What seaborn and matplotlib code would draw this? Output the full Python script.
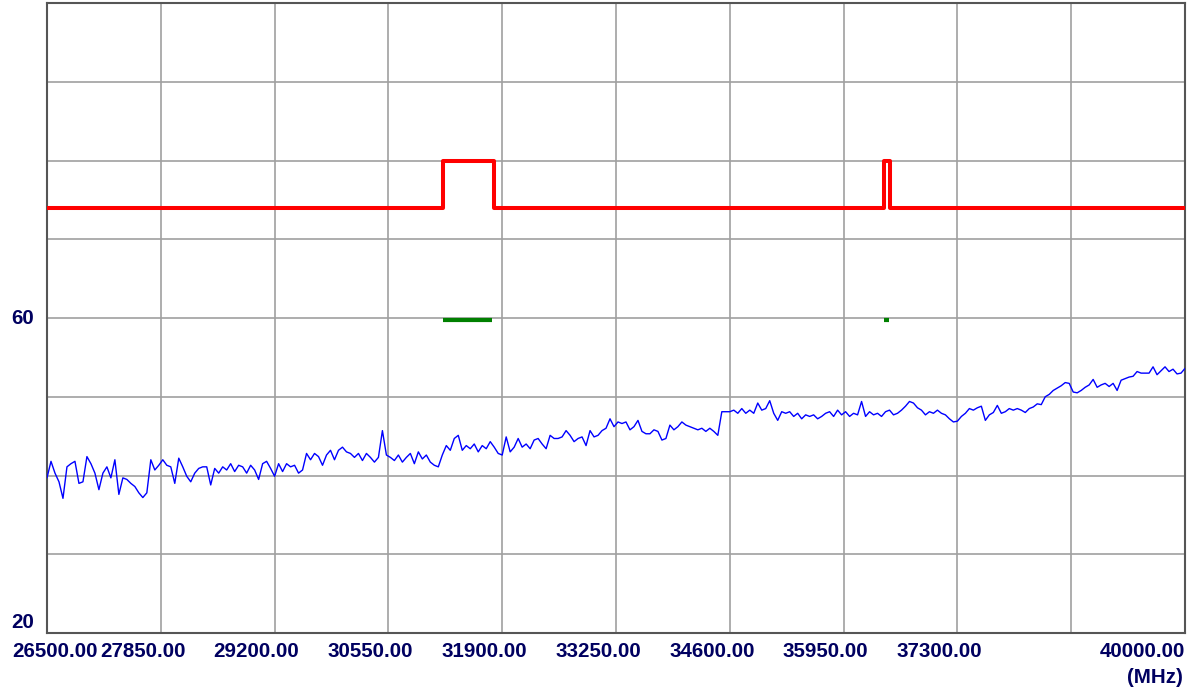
import numpy as np
import pandas as pd
import matplotlib
matplotlib.use("Agg")
import matplotlib.pyplot as plt
import seaborn as sns

# Measured trace (dBuV), one reading per sweep point, split by frequency range
trace_a = [39.7, 41.8, 40.3, 39.2, 37.1, 41.1, 41.5, 41.8, 39.0, 39.2,
           42.4, 41.5, 40.3, 38.2, 40.3, 41.1, 39.7, 42.0, 37.6, 39.7,
           39.5, 39.0, 38.6, 37.8, 37.2, 37.8, 42.0, 40.7, 41.3, 42.0,
           41.3, 41.1, 39.0, 42.2, 41.1, 39.9, 39.2, 40.3, 40.9, 41.1,
           41.1, 38.8, 40.9, 40.3, 41.1, 40.7, 41.5, 40.5, 41.3, 41.1,
           40.3, 41.3, 40.7, 39.5, 41.5, 41.8, 40.9, 39.9, 41.5, 40.5,
           41.5, 41.1, 41.3, 40.3, 40.7, 42.8, 42.0, 42.8, 42.4, 41.3,
           42.6, 43.2, 42.0]
trace_b = [43.2, 43.6, 43.0, 42.8, 42.3, 42.8, 41.9, 42.8, 42.3, 41.7,
           42.3, 45.7, 42.6, 42.3, 41.9, 42.6, 41.7, 42.3, 42.8, 41.5,
           43.0, 42.1, 42.6, 41.7, 41.3, 41.1, 42.6, 43.8, 43.2, 44.7,
           45.1, 43.2, 43.8, 43.4, 44.0, 43.0, 43.8, 43.4, 44.3, 43.6,
           42.8, 42.6, 44.9, 43.0, 43.6, 44.7, 43.6, 44.0, 43.4, 44.5,
           44.7, 44.0, 43.4, 45.1, 44.7, 44.7, 44.9, 45.7, 45.1, 44.3,
           44.7, 44.9, 43.8, 45.7, 44.9, 45.1, 45.7, 46.0, 47.2, 46.2,
           46.8]
trace_c = [46.6, 46.8, 45.8, 46.2, 47.0, 45.6, 45.3, 45.3, 45.8, 45.6,
           44.5, 44.7, 46.4, 45.8, 46.2, 46.8, 46.4, 46.2, 46.0, 45.8,
           46.0, 45.6, 46.0, 45.6, 45.1, 48.1, 48.1, 48.1, 48.3, 47.9,
           48.5, 47.9, 48.3, 47.9, 49.2, 48.3, 48.5, 49.5, 47.9, 47.0,
           48.1, 47.9, 48.1, 47.5, 47.9, 47.2, 47.7, 47.5, 47.7, 47.2,
           47.5, 47.9, 48.1, 47.5, 48.3, 47.7, 48.1, 47.5, 47.9, 47.7,
           49.4, 47.5, 48.1, 47.7, 47.9, 47.5, 48.1, 48.3, 47.7, 47.9,
           48.3]
trace_d = [48.8, 49.4, 49.2, 48.6, 48.3, 47.7, 48.1, 47.9, 48.3, 47.9,
           47.7, 47.2, 46.8, 46.9, 47.5, 47.9, 48.5, 48.3, 48.6, 48.8,
           47.0, 47.7, 48.0, 48.9, 47.9, 48.1, 48.5, 48.3, 48.5, 48.3,
           48.0, 48.5, 48.7, 49.1, 49.0, 50.0, 50.3, 50.8, 51.1, 51.4,
           51.8, 51.7, 50.6, 50.5, 50.8, 51.2, 51.5, 52.2, 51.2, 51.5,
           51.7, 51.3, 51.7, 50.8, 52.1, 52.3, 52.5, 52.6, 53.2, 53.0,
           53.0, 53.0, 53.8, 52.8, 53.3, 53.8, 53.2, 53.5, 52.9, 53.0,
           53.6]

f_start, f_stop = 26500.0, 40000.0

# Limit line (red)
limit_freq = [26500, 31200, 31200, 31800, 31800, 36430, 36430, 36500, 36500, 40000]
limit_level = [74, 74, 80, 80, 74, 74, 80, 80, 74, 74]

# Band markers (green)
band_id = ["b1", "b1", "b2", "b2"]
band_freq = [31200, 31780, 36430, 36490]
band_level = [59.7, 59.7, 59.7, 59.7]

# Axis labels
x_grid = [26500 + 1350 * k for k in range(11)]
x_labels = ["26500.00", "27850.00", "29200.00", "30550.00", "31900.00",
            "33250.00", "34600.00", "35950.00", "37300.00", "", "40000.00"]
y_labels = {60: "60", 20: "20"}

level = np.concatenate([trace_a, trace_b, trace_c, trace_d])
trace = pd.DataFrame({"freq": np.linspace(f_start, f_stop, len(level)),
                      "level": level})
limit = pd.DataFrame({"freq": limit_freq, "level": limit_level})
bands = pd.DataFrame({"band": band_id, "freq": band_freq, "level": band_level})

sns.set_style("white")
plt.rcParams["font.family"] = ["Liberation Sans", "DejaVu Sans"]

W, H = 1194, 691
fig = plt.figure(figsize=(W / 100, H / 100), dpi=100)
ax = fig.add_axes([47 / W, 58 / H, (1185 - 47) / W, 630 / H])

sns.lineplot(data=trace, x="freq", y="level", ax=ax, color="#0000ff",
             lw=1.0, sort=False, estimator=None, zorder=3)
sns.lineplot(data=limit, x="freq", y="level", ax=ax, color="#ff0000",
             lw=2.9, sort=False, estimator=None, zorder=4)
sns.lineplot(data=bands, x="freq", y="level", units="band", ax=ax,
             color="#008000", lw=3.0, sort=False, estimator=None, zorder=4,
             solid_capstyle="butt")

ax.set_xlim(f_start, f_stop)
ax.set_ylim(20, 100)
ax.set_xticks(x_grid)
ax.set_yticks(np.arange(20, 101, 10))
ax.set_xticklabels([])
ax.set_yticklabels([])
ax.tick_params(length=0)
ax.set_xlabel("")
ax.set_ylabel("")
ax.grid(True, color="#a0a0a0", lw=1.2)
for s in ax.spines.values():
    s.set_color("#555555")
    s.set_linewidth(1.5)

txt = dict(color="#000060", fontsize=14.8, fontweight="bold")

# Frequency labels: decimal point sits on its gridline
for f, lab in zip(x_grid, x_labels):
    if not lab:
        continue
    if f == f_start:
        ax.annotate(lab, xy=(f, 0), xycoords=("data", "axes fraction"),
                    xytext=(-35, -24), textcoords="offset pixels",
                    ha="left", va="baseline", **txt)
    elif f == f_stop:
        ax.annotate(lab, xy=(f, 0), xycoords=("data", "axes fraction"),
                    xytext=(0, -24), textcoords="offset pixels",
                    ha="right", va="baseline", **txt)
    else:
        ax.annotate(lab, xy=(f, 0), xycoords=("data", "axes fraction"),
                    xytext=(-18, -24), textcoords="offset pixels",
                    ha="center", va="baseline", **txt)

ax.annotate("(MHz)", xy=(1, 0), xycoords="axes fraction",
            xytext=(-2, -50), textcoords="offset pixels",
            ha="right", va="baseline", **txt)

for v, lab in y_labels.items():
    dy = 10 if v == 20 else 0
    ax.annotate(lab, xy=(0, v), xycoords=("axes fraction", "data"),
                xytext=(-13, dy), textcoords="offset pixels",
                ha="right", va="center", **txt)

fig.savefig("out.png", dpi=100)
